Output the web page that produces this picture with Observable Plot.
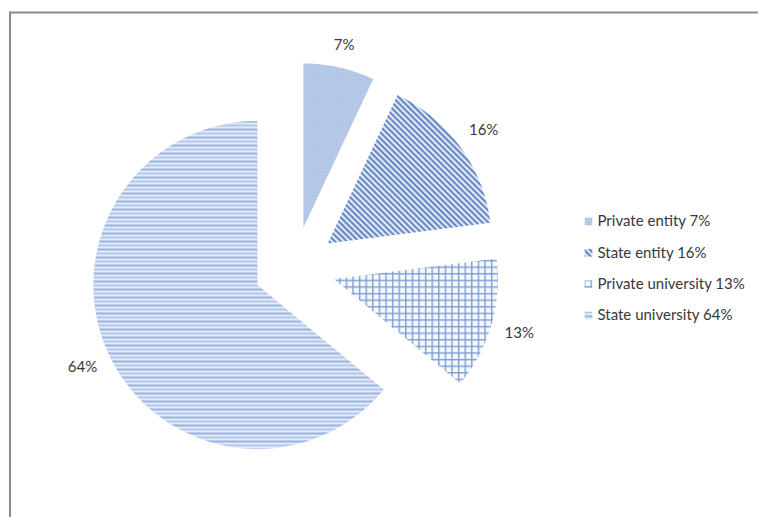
<!DOCTYPE html>
<html><head><meta charset="utf-8">
<script src="https://cdn.jsdelivr.net/npm/d3@7"></script>
<script src="https://cdn.jsdelivr.net/npm/@observablehq/plot@0.6"></script>
<style>
html,body{margin:0;padding:0;background:#fff;}
#wrap{position:relative;width:758px;height:517px;overflow:hidden;background:#fff;}
</style></head><body><div id="wrap"></div>
<script>
const categories = ["Private entity", "State entity", "Private university", "State university"];
const shares = [7, 16, 13, 64];
const pctLabels = ["7%", "16%", "13%", "64%"];
const legendLabels = ["Private entity 7%", "State entity 16%", "Private university 13%", "State university 64%"];
const patternIds = ["pe", "se", "pu", "su"];

const W = 758, H = 517;
const cx = 294, cy = 267, R = 164, explode = 41;
const total = d3.sum(shares);
let acc = 0;
const slices = shares.map((v, i) => {
  const a0 = acc / total * 2 * Math.PI; acc += v;
  const a1 = acc / total * 2 * Math.PI;
  const mid = (a0 + a1) / 2;
  return {i, a0, a1, mid, ox: cx + explode * Math.sin(mid), oy: cy - explode * Math.cos(mid)};
});
function slicePts(s) {
  const arr = [{x: s.ox, y: s.oy}];
  const n = Math.max(8, Math.ceil((s.a1 - s.a0) / (Math.PI / 180)));
  for (let k = 0; k <= n; k++) {
    const a = s.a0 + (s.a1 - s.a0) * k / n;
    arr.push({x: s.ox + R * Math.sin(a), y: s.oy - R * Math.cos(a)});
  }
  arr.push({x: s.ox, y: s.oy});
  return arr;
}
const labelData = slices.map(s => {
  const sx = Math.sin(s.mid), cy_ = Math.cos(s.mid);
  const d = R + 14 + Math.abs(sx) * 14 + Math.abs(cy_) * 6;
  return {x: s.ox + d * sx, y: s.oy - d * cy_, text: pctLabels[s.i]};
});
const legX = 588, legY0 = 221, legStep = 31.3;
const legendData = legendLabels.map((t, i) => ({x: legX, y: legY0 + i * legStep, text: t, fill: `url(#${patternIds[i]})`}));

const font = "Lato, 'Open Sans', sans-serif";
const marks = [
  Plot.frame({insetLeft: 9.5, insetTop: 12, insetRight: -20, insetBottom: -20, stroke: "#8a8a8a", strokeWidth: 2})
];
slices.forEach(s => {
  marks.push(Plot.line(slicePts(s), {x: "x", y: "y", stroke: "none", fill: `url(#${patternIds[s.i]})`, curve: "linear"}));
});
marks.push(Plot.text(labelData, {x: "x", y: "y", text: "text", fontSize: 15, fill: "#383838", textAnchor: "middle"}));
marks.push(Plot.dot(legendData, {x: "x", y: "y", symbol: "square", r: 4.3, fill: "fill", stroke: "none"}));
marks.push(Plot.text(legendData, {x: d => d.x + 9, y: "y", text: "text", fontSize: 15, fill: "#383838", textAnchor: "start"}));

const svg = Plot.plot({
  width: W, height: H,
  marginTop: 0, marginRight: 0, marginBottom: 0, marginLeft: 0,
  x: {domain: [0, W], range: [0, W], axis: null},
  y: {domain: [0, H], range: [0, H], axis: null},
  color: {type: "identity"},
  style: {fontFamily: font, background: "#fff", overflow: "hidden"},
  marks
});
const ns = "http://www.w3.org/2000/svg";
const defs = document.createElementNS(ns, "defs");
defs.innerHTML = `
<pattern id="pe" patternUnits="userSpaceOnUse" width="3" height="3">
 <rect width="3" height="3" fill="#bccdea"/>
 <rect width="1" height="1" fill="#8fa9d8"/>
 <rect x="1.5" y="1.5" width="1" height="1" fill="#a3b9e0"/>
</pattern>
<pattern id="se" patternUnits="userSpaceOnUse" width="4.2" height="4.2" patternTransform="rotate(45)">
 <rect width="4.2" height="4.2" fill="#e4ecf7"/>
 <rect width="4.2" height="2.1" fill="#6686c4"/>
</pattern>
<pattern id="pu" patternUnits="userSpaceOnUse" width="6.6" height="6.6" patternTransform="translate(2,2)">
 <rect width="6.6" height="6.6" fill="#f5f8fd"/>
 <rect width="1.4" height="6.6" fill="#7f9ed5"/>
 <rect width="6.6" height="1.4" fill="#7f9ed5"/>
</pattern>
<pattern id="su" patternUnits="userSpaceOnUse" width="8" height="8">
 <rect width="8" height="8" fill="#e1eaf6"/>
 <rect y="0" width="8" height="2" fill="#9ab2de"/>
 <rect y="4" width="8" height="2" fill="#b5c8e8"/>
</pattern>`;
svg.insertBefore(defs, svg.firstChild);
document.getElementById("wrap").appendChild(svg);
</script></body></html>
